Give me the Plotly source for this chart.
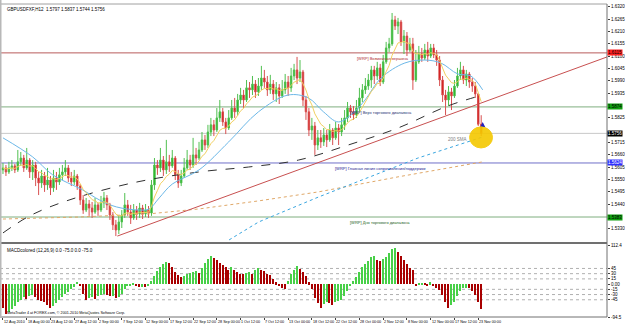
import plotly.graph_objects as go
import pandas as pd

# ---------------- data (GBPUSD H12) ----------------
first_open = 1.5593
close = [1.5602,1.5584,1.5602,1.5611,1.5593,1.5629,1.5646,1.5602,1.5637,1.5584,
         1.5615,1.5557,1.5535,1.5566,1.5526,1.5548,1.5513,1.5557,1.5539,1.5571,
         1.5584,1.5602,1.5557,1.5539,1.5566,1.5521,1.5459,1.5414,1.5441,1.5423,
         1.5405,1.5437,1.5414,1.5446,1.5468,1.5437,1.5392,1.5348,1.5325,1.5361,
         1.5392,1.5437,1.5405,1.5379,1.5414,1.5397,1.5423,1.5397,1.5414,1.5401,
         1.5526,1.5615,1.5602,1.5637,1.5593,1.5629,1.5611,1.5646,1.5571,1.5535,
         1.5566,1.5602,1.5637,1.5615,1.5660,1.5646,1.5682,1.5727,1.5704,1.5762,
         1.5794,1.5771,1.5825,1.5852,1.5807,1.5780,1.5825,1.5869,1.5852,1.5905,
         1.5927,1.5905,1.5959,1.5950,1.5976,1.5941,1.5967,1.6003,1.5985,1.5950,
         1.5976,1.5932,1.5959,1.5923,1.5950,1.5985,1.5959,1.6012,1.6039,1.6003,
         1.6030,1.5905,1.5852,1.5771,1.5789,1.5704,1.5736,1.5718,1.5749,1.5727,
         1.5771,1.5736,1.5780,1.5762,1.5794,1.5825,1.5869,1.5852,1.5838,1.5869,
         1.5914,1.5950,1.5967,1.5994,1.6039,1.6012,1.6048,1.5985,1.6075,1.6137,
         1.6155,1.6262,1.6235,1.6253,1.6164,1.6190,1.6128,1.6155,1.5994,1.6075,
         1.6110,1.6092,1.6128,1.6101,1.6137,1.6106,1.6083,1.5994,1.5927,1.5905,
         1.5941,1.5923,1.5967,1.6012,1.6039,1.5994,1.6021,1.5985,1.5967,1.5932,
         1.5797,1.5756]
high = [1.5624,1.5615,1.5629,1.5637,1.5620,1.5682,1.5673,1.5660,1.5691,1.5646,
        1.5637,1.5629,1.5584,1.5593,1.5584,1.5602,1.5566,1.5593,1.5584,1.5602,
        1.5615,1.5637,1.5615,1.5584,1.5593,1.5575,1.5530,1.5481,1.5468,1.5459,
        1.5450,1.5468,1.5446,1.5477,1.5495,1.5481,1.5446,1.5405,1.5370,1.5392,
        1.5414,1.5490,1.5459,1.5437,1.5441,1.5432,1.5446,1.5437,1.5441,1.5432,
        1.5548,1.5646,1.5637,1.5691,1.5655,1.5727,1.5660,1.5682,1.5655,1.5593,
        1.5593,1.5646,1.5682,1.5660,1.5736,1.5691,1.5718,1.5762,1.5749,1.5794,
        1.5825,1.5816,1.5869,1.5905,1.5869,1.5825,1.5860,1.5905,1.5914,1.5932,
        1.5959,1.5950,1.5994,1.5985,1.6012,1.5994,1.6003,1.6057,1.6039,1.6012,
        1.6017,1.5994,1.5985,1.5976,1.5994,1.6021,1.6012,1.6048,1.6066,1.6097,
        1.6083,1.6039,1.5923,1.5869,1.5825,1.5807,1.5771,1.5771,1.5780,1.5771,
        1.5798,1.5780,1.5807,1.5798,1.5825,1.5860,1.5896,1.5883,1.5878,1.5905,
        1.5959,1.5976,1.6003,1.6021,1.6057,1.6057,1.6075,1.6066,1.6106,1.6164,
        1.6182,1.6293,1.6280,1.6271,1.6262,1.6217,1.6208,1.6182,1.6182,1.6128,
        1.6146,1.6137,1.6155,1.6164,1.6155,1.6155,1.6128,1.6101,1.6012,1.5950,
        1.5967,1.5959,1.5994,1.6048,1.6075,1.6057,1.6039,1.6030,1.6003,1.5985,
        1.5936,1.5837]
low = [1.5575,1.5566,1.5575,1.5588,1.5579,1.5584,1.5611,1.5584,1.5593,1.5557,
       1.5548,1.5521,1.5481,1.5513,1.5495,1.5504,1.5481,1.5495,1.5504,1.5526,
       1.5548,1.5566,1.5539,1.5521,1.5526,1.5504,1.5437,1.5397,1.5405,1.5388,
       1.5379,1.5397,1.5388,1.5405,1.5423,1.5414,1.5370,1.5325,1.5298,1.5307,
       1.5334,1.5379,1.5388,1.5352,1.5370,1.5370,1.5379,1.5374,1.5383,1.5379,
       1.5388,1.5504,1.5571,1.5584,1.5566,1.5575,1.5584,1.5602,1.5548,1.5513,
       1.5521,1.5557,1.5593,1.5593,1.5602,1.5615,1.5637,1.5673,1.5682,1.5691,
       1.5744,1.5744,1.5762,1.5807,1.5789,1.5753,1.5771,1.5816,1.5825,1.5834,
       1.5887,1.5869,1.5896,1.5914,1.5927,1.5914,1.5923,1.5950,1.5959,1.5923,
       1.5932,1.5905,1.5896,1.5887,1.5914,1.5932,1.5923,1.5941,1.5994,1.5976,
       1.5985,1.5878,1.5816,1.5744,1.5727,1.5660,1.5682,1.5691,1.5700,1.5695,
       1.5718,1.5704,1.5727,1.5704,1.5744,1.5771,1.5807,1.5825,1.5816,1.5825,
       1.5852,1.5896,1.5932,1.5950,1.5959,1.5976,1.5994,1.5967,1.5976,1.6066,
       1.6119,1.6146,1.6217,1.6199,1.6146,1.6110,1.6101,1.6119,1.5950,1.5985,
       1.6066,1.6075,1.6083,1.6075,1.6092,1.6092,1.6057,1.5967,1.5896,1.5838,
       1.5878,1.5860,1.5914,1.5959,1.5994,1.5976,1.5967,1.5959,1.5941,1.5914,
       1.5789,1.5744]

macd = [-70,-85,-80,-72,-62,-52,-45,-38,-42,-33,
        -30,-38,-45,-48,-52,-60,-68,-62,-55,-45,
        -38,-28,-22,-15,-8,7,-5,-28,-45,-40,
        -38,-42,-35,-30,-28,-32,-35,-33,-40,-37,
        -28,-15,-6,-3,4,-5,-9,-8,-9,-6,
        8,22,38,50,58,63,60,48,35,25,
        20,22,28,32,35,38,32,45,60,72,
        80,76,70,62,55,48,42,48,40,35,
        30,28,32,36,28,40,46,40,38,30,
        26,15,5,-5,-12,-14,10,28,42,52,
        44,35,22,5,-15,-40,-55,-68,-58,-50,
        -55,-60,-52,-48,-45,-35,-20,-5,8,20,
        35,48,58,66,78,82,70,65,72,78,
        90,100,105,92,82,70,58,46,40,-4,
        3,4,3,-4,5,-3,-10,-18,-30,-50,
        -68,-60,-50,-35,-20,-12,-10,-12,-20,-30,
        -50,-72]

date_labels = ["12 Aug 2010","18 Aug 00:00","23 Aug 12:00","27 Aug 12:00","2 Sep 00:00",
               "7 Sep 12:00","12 Sep 00:00","17 Sep 12:00","22 Sep 12:00","28 Sep 00:00",
               "1 Oct 12:00","7 Oct 12:00","13 Oct 00:00","18 Oct 12:00","22 Oct 12:00",
               "28 Oct 00:00","2 Nov 12:00","8 Nov 00:00","12 Nov 00:00","17 Nov 12:00",
               "23 Nov 00:00"]
label_every = 8

# price scale labels (those hidden behind the coloured level boxes are left out)
price_ticks = [1.6320,1.6265,1.6210,1.6155,1.6100,1.6045,1.5990,1.5935,1.5825,
               1.5715,1.5660,1.5605,1.5550,1.5495,1.5440,1.5330,1.5275]
macd_ticks = [112.4,45,30,15,0,-15,-30,-45,-94.5]
macd_tick_text = ["112.4","45","30","15","0.00","-15","-30","-45","-94.5"]
macd_levels = [45,30,15,-15,-30,-45]

# moving averages (anchor points)
sma_fast_x = [0,10,16.75,26.8,32.5,38.2,45.9,49.2,52.6,57,66,76,86,96,102.8,107.9,112.9,117.9,121.9,127.3,135.3,142,147.4,153.1,157.5,161.5]
sma_fast_y = [1.5736,1.5651,1.5571,1.5504,1.5459,1.5428,1.5414,1.5419,1.5468,1.5530,1.5593,1.5718,1.5852,1.5927,1.5914,1.5852,1.5807,1.5847,1.5905,1.6003,1.6070,1.6083,1.6070,1.6021,1.6012,1.5950]
sma100_x = [0,9,21.4,43.6,66,82.7,99.5,116.2,133,149.7,161.5]
sma100_y = [1.5312,1.5388,1.5455,1.5535,1.5584,1.5606,1.5637,1.5704,1.5780,1.5878,1.5927]
sma200_x = [74.4,86.1,106.2,139.7,161.5]
sma200_y = [1.5267,1.5361,1.5472,1.5646,1.5740]
sma_long_x = [0,25.8,49.2,66,86.1,106.2,133,161.5]
sma_long_y = [1.5374,1.5383,1.5397,1.5419,1.5455,1.5495,1.5562,1.5629]
trend_x = [38.5,203.4]
trend_y = [1.5298,1.6097]

levels = [  # price, line colour, label bg, label fg, text, text x, text colour
    (1.6115, "#b85c5c", "#ff2020", "#000000", "[WRP] Возможная вершина", 118.6, "#b03030"),
    (1.5874, "#7fae7f", "#10a010", "#000000", "[WRP] Верх торгового диапазона", 116.2, "#203070"),
    (1.5624, "#7070c8", "#3030ff", "#ffffff", "[WRP] Главная линия сопротивления/поддержки", 111.2, "#202090"),
    (1.5383, "#7fae7f", "#10a010", "#000000", "[WRP] Дно торгового диапазона", 116.2, "#206020"),
]
bid = 1.5756

# ---------------- derived ----------------
n = len(close)
x = list(range(n))
opens = [first_open] + close[:-1]
hi = [max(h, o, c) for h, o, c in zip(high, opens, close)]
lo = [min(l, o, c) for l, o, c in zip(low, opens, close)]
ema = pd.Series(close).ewm(span=8, adjust=False).mean().tolist()
mcol = []
for i, v in enumerate(macd):
    if i > 0 and v >= macd[i - 1]:
        mcol.append("#48d048")
    else:
        mcol.append("#a80000")

FONT = "Liberation Sans"
W, H = 625, 326
ML, MR, MT, MB = 0, 15, 4, 9
PH = H - MT - MB
XR = [-1.0, 203.35]
PR = [1.5276, 1.6333]
main_dom = [(H - MB - 241) / PH, 1.0]
macd_dom = [0.0, (H - MB - 245) / PH]

fig = go.Figure()
fig.add_trace(go.Scatter(x=sma_long_x, y=sma_long_y, mode="lines",
                         line=dict(color="#e0a868", width=1, dash="dot"), xaxis="x", yaxis="y"))
fig.add_trace(go.Scatter(x=sma200_x, y=sma200_y, mode="lines",
                         line=dict(color="#3aa6e0", width=1, dash="dot"), xaxis="x", yaxis="y"))
fig.add_trace(go.Scatter(x=trend_x, y=trend_y, mode="lines",
                         line=dict(color="#c85050", width=1), xaxis="x", yaxis="y"))
fig.add_trace(go.Scatter(x=sma100_x, y=sma100_y, mode="lines", line_shape="spline",
                         line=dict(color="#303030", width=1, dash="dash"), xaxis="x", yaxis="y"))
fig.add_trace(go.Scatter(x=sma_fast_x, y=sma_fast_y, mode="lines", line_shape="spline",
                         line=dict(color="#6cb8e8", width=1), xaxis="x", yaxis="y"))
fig.add_trace(go.Scatter(x=x, y=ema, mode="lines",
                         line=dict(color="#f2d060", width=1), xaxis="x", yaxis="y"))
fig.add_trace(go.Candlestick(x=x, open=opens, high=hi, low=lo, close=close,
                             increasing=dict(line=dict(color="#50c050", width=1), fillcolor="#18b018"),
                             decreasing=dict(line=dict(color="#d85050", width=1), fillcolor="#d00000"),
                             whiskerwidth=0, xaxis="x", yaxis="y"))
fig.add_trace(go.Scatter(x=[161.5], y=[1.5807], mode="markers",
                         marker=dict(symbol="arrow-up", size=5, color="#2020c0"), xaxis="x", yaxis="y"))
fig.add_trace(go.Bar(x=x, y=macd, marker=dict(color=mcol, line=dict(width=0)), width=0.5,
                     xaxis="x2", yaxis="y2"))

shapes = []
for p, lc, *_ in levels:
    shapes.append(dict(type="line", xref="paper", x0=0, x1=1, yref="y", y0=p, y1=p,
                       line=dict(color=lc, width=1), layer="below"))
shapes.append(dict(type="line", xref="paper", x0=0, x1=1, yref="y", y0=bid, y1=bid,
                   line=dict(color="#c8c8c8", width=1), layer="below"))
for lv in macd_levels:
    shapes.append(dict(type="line", xref="paper", x0=0, x1=1, yref="y2", y0=lv, y1=lv,
                       line=dict(color="#b0b0b0", width=1, dash="dot"), layer="below"))
# yellow highlight ellipse
shapes.append(dict(type="circle", xref="x", yref="y", x0=157.1, x1=164.8, y0=1.5691, y1=1.5785,
                   fillcolor="#f5c800", line=dict(color="#f5c800", width=1), opacity=0.9))
# pane frames
sep_y = (H - MB - 243) / PH
shapes.append(dict(type="line", xref="paper", yref="paper", x0=0, x1=1, y0=sep_y, y1=sep_y,
                   line=dict(color="#707070", width=2)))
shapes.append(dict(type="line", xref="paper", yref="paper", x0=0, x1=1, y0=0, y1=0,
                   line=dict(color="#707070", width=1)))
shapes.append(dict(type="line", xref="paper", yref="paper", x0=0, x1=1, y0=1, y1=1,
                   line=dict(color="#a0a0a0", width=1)))
shapes.append(dict(type="line", xref="paper", yref="paper", x0=1, x1=1, y0=0, y1=1,
                   line=dict(color="#707070", width=1)))
shapes.append(dict(type="line", xref="paper", yref="paper", x0=0, x1=0, y0=0, y1=1.02,
                   line=dict(color="#b8b8b8", width=3)))

ann = []
small = dict(family=FONT, size=4.5, color="#000000")
tiny = dict(family=FONT, size=3.7, color="#000000")
for p, lc, bg, fg, txt, tx, tc in levels:
    ann.append(dict(xref="paper", x=1, xanchor="left", yref="y", y=p, yanchor="middle",
                    text="%.4f" % p, showarrow=False, bgcolor=bg, borderpad=0,
                    font=dict(family=FONT, size=4.5, color=fg)))
    ann.append(dict(xref="x", x=tx, xanchor="left", yref="y", y=p, yanchor="top", yshift=-1,
                    text=txt, showarrow=False, font=dict(family=FONT, size=4, color=tc)))
ann.append(dict(xref="paper", x=1, xanchor="left", yref="y", y=bid, yanchor="middle",
                text="%.4f" % bid, showarrow=False, bgcolor="#000000", borderpad=0,
                font=dict(family=FONT, size=4.5, color="#ffffff")))
ann.append(dict(xref="x", x=153, yref="y", y=1.5727, text="200 SMA", showarrow=False,
                font=dict(family=FONT, size=4.5, color="#808080")))
ann.append(dict(xref="paper", x=0.008, xanchor="left", yref="paper", y=1, yanchor="top", yshift=-1,
                text="GBPUSDFXF,H12  1.5797 1.5837 1.5744 1.5756", showarrow=False, font=small))
ann.append(dict(xref="paper", x=0.008, xanchor="left", yref="paper", y=macd_dom[1], yanchor="top", yshift=-1,
                text="MACDcolored (12,26,9) 0.0 -75.0 0.0 -75.0", showarrow=False, font=small))
ann.append(dict(xref="paper", x=0.008, xanchor="left", yref="paper", y=0, yanchor="bottom", yshift=0,
                text="MetaTrader 4 at FOREX.com, © 2001-2010 MetaQuotes Software Corp.",
                showarrow=False, font=tiny))
for k, lab in enumerate(date_labels):
    ann.append(dict(xref="x2", x=k * label_every - 0.4, xanchor="left", yref="paper", y=0,
                    yanchor="top", yshift=-1, text=lab, showarrow=False, font=tiny))

fig.update_layout(
    width=W, height=H, margin=dict(l=ML, r=MR, t=MT, b=MB),
    paper_bgcolor="#ffffff", plot_bgcolor="#ffffff", showlegend=False,
    bargap=0, font=dict(family=FONT, size=4.5, color="#000000"),
    xaxis=dict(domain=[0, 1], range=XR, anchor="y", showticklabels=False, showgrid=False,
               zeroline=False, ticks="", rangeslider=dict(visible=False), fixedrange=True),
    yaxis=dict(domain=main_dom, range=PR, side="right", anchor="x", tickvals=price_ticks,
               ticktext=["%.4f" % t for t in price_ticks], ticks="outside", ticklen=2,
               tickcolor="#404040", showgrid=False, zeroline=False, tickfont=small),
    xaxis2=dict(domain=[0, 1], range=XR, anchor="y2", tickvals=[k * label_every for k in range(len(date_labels))],
                showticklabels=False, ticks="outside", ticklen=2, tickcolor="#404040",
                showgrid=False, zeroline=False),
    yaxis2=dict(domain=macd_dom, range=[-94.5, 112.4], side="right", anchor="x2",
                tickvals=macd_ticks, ticktext=macd_tick_text, ticks="outside", ticklen=2,
                tickcolor="#404040", showgrid=False, zeroline=False, tickfont=small),
    shapes=shapes, annotations=ann,
)
fig.write_html("out.html")
